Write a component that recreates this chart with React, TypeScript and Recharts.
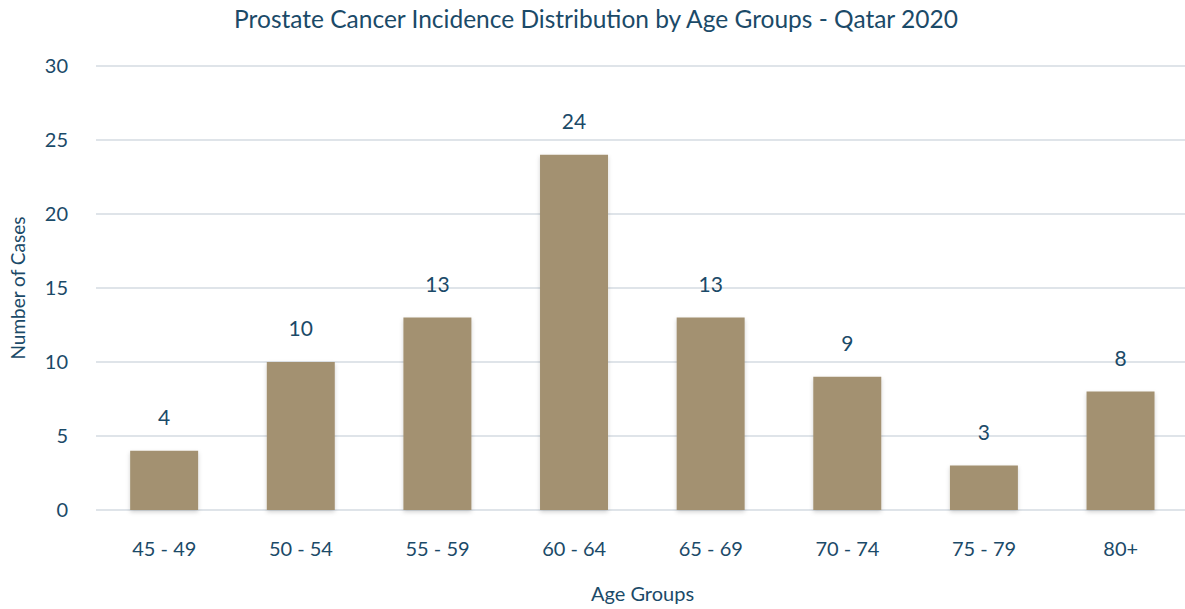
import { BarChart, Bar, XAxis, YAxis, CartesianGrid, LabelList } from 'recharts';

const ageGroups = ['45 - 49', '50 - 54', '55 - 59', '60 - 64', '65 - 69', '70 - 74', '75 - 79', '80+'];
const cases = [4, 10, 13, 24, 13, 9, 3, 8];
const yTicks = [0, 5, 10, 15, 20, 25, 30];

const data = ageGroups.map((name, i) => ({ name, value: cases[i] }));

const textColor = '#1b4a68';
const font = 'Lato, "Open Sans", sans-serif';

const App = () => {
  return (
    <div style={{ position: 'absolute', left: 0, top: 0, width: 1185, height: 609, background: '#fff', fontFamily: font }}>
      <div
        style={{
          position: 'absolute',
          top: 4,
          left: 0,
          width: 1192,
          textAlign: 'center',
          fontSize: 24.5,
          color: textColor,
        }}
      >
        Prostate Cancer Incidence Distribution by Age Groups - Qatar 2020
      </div>
      <svg width={0} height={0} style={{ position: 'absolute' }}>
        <defs>
          <filter id="barShadow" x="-20%" y="-20%" width="140%" height="140%">
            <feDropShadow dx="0" dy="2" stdDeviation="2" floodColor="#000" floodOpacity="0.18" />
          </filter>
        </defs>
      </svg>
      <BarChart
        width={1185}
        height={609}
        data={data}
        margin={{ top: 66, right: -4, left: 0, bottom: 0 }}
        barCategoryGap="25%"
      >
        <CartesianGrid vertical={false} stroke="#dfe4e9" strokeWidth={2} />
        <XAxis
          dataKey="name"
          axisLine={false}
          tickLine={false}
          tickMargin={26}
          tick={{ fill: textColor, fontSize: 20, fontFamily: font }}
          label={{ value: 'Age Groups', position: 'insideBottom', offset: 8, fill: textColor, fontSize: 20, fontFamily: font }}
          height={99}
        />
        <YAxis
          width={96}
          domain={[0, 30]}
          ticks={yTicks}
          axisLine={false}
          tickLine={false}
          tickMargin={22}
          tick={{ fill: textColor, fontSize: 20, fontFamily: font }}
          label={{
            value: 'Number of Cases',
            angle: -90,
            position: 'insideLeft',
            offset: 18,
            style: { textAnchor: 'middle' },
            fill: textColor,
            fontSize: 19,
            fontFamily: font,
          }}
        />
        <Bar dataKey="value" fill="#a39171" isAnimationActive={false} filter="url(#barShadow)">
          <LabelList dataKey="value" position="top" offset={26} fill={textColor} fontSize={21} fontFamily={font} />
        </Bar>
      </BarChart>
    </div>
  );
};

export default App;
